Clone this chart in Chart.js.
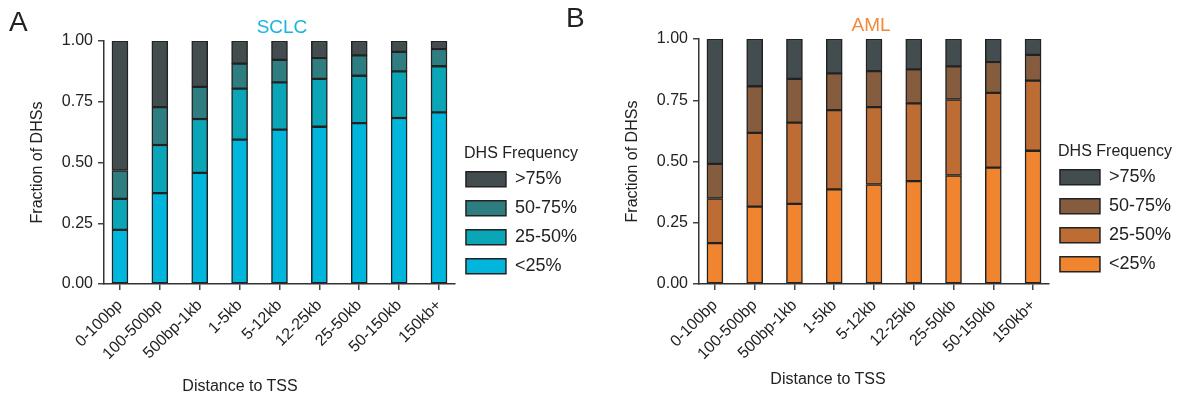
<!DOCTYPE html>
<html lang="en">
<head>
    <meta charset="UTF-8">
    <title>DHS frequency by distance to TSS</title>
    <script src="https://cdn.jsdelivr.net/npm/chart.js"></script>
    <style>
        body { margin: 0; background: #fff; font-family: "Liberation Sans", Arial, sans-serif; color: #222; }
        #wrap { position: relative; width: 1189px; height: 399px; }
        canvas { position: absolute; top: 0; }
        .lbl { position: absolute; white-space: nowrap; line-height: 1; }
        .panel { font-size: 28px; }
        .ttl { font-size: 19px; transform: translateX(-50%); }
        .xt { font-size: 16px; transform: translateX(-50%); }
    </style>
</head>
<body>
<div id="wrap">
    <canvas id="sclc" width="595" height="399" style="left:0"></canvas>
    <canvas id="aml" width="594" height="399" style="left:595px"></canvas>
    <div class="lbl panel" style="left:9px;top:8px">A</div>
    <div class="lbl panel" style="left:566px;top:4px">B</div>
    <div class="lbl ttl" style="left:282px;top:17px;color:#1ab4dc">SCLC</div>
    <div class="lbl ttl" style="left:871px;top:15px;color:#f28a3c">AML</div>
    <div class="lbl xt" style="left:240px;top:378px">Distance to TSS</div>
    <div class="lbl xt" style="left:828px;top:371px">Distance to TSS</div>
</div>

<script>
    const distances = ["0-100bp", "100-500bp", "500bp-1kb", "1-5kb", "5-12kb", "12-25kb", "25-50kb", "50-150kb", "150kb+"];
    const freqLabels = ["<25%", "25-50%", "50-75%", ">75%"];

    // fractions per bin, bottom segment first
    const sclcLt25 = [0.223, 0.374, 0.457, 0.594, 0.635, 0.647, 0.662, 0.683, 0.706];
    const sclc25to50 = [0.127, 0.198, 0.222, 0.210, 0.195, 0.197, 0.195, 0.192, 0.190];
    const sclc50to75 = [0.117, 0.156, 0.132, 0.103, 0.092, 0.086, 0.084, 0.080, 0.071];
    const sclcGt75 = [0.533, 0.272, 0.189, 0.093, 0.078, 0.070, 0.059, 0.045, 0.033];

    const amlLt25 = [0.167, 0.316, 0.327, 0.386, 0.406, 0.420, 0.443, 0.475, 0.544];
    const aml25to50 = [0.182, 0.301, 0.332, 0.324, 0.316, 0.317, 0.310, 0.305, 0.286];
    const aml50to75 = [0.141, 0.190, 0.178, 0.150, 0.147, 0.139, 0.135, 0.126, 0.105];
    const amlGt75 = [0.510, 0.193, 0.163, 0.140, 0.131, 0.124, 0.112, 0.094, 0.065];

    const yTicks = [0, 0.25, 0.5, 0.75, 1];

    const sclcColors = ["#00b6dd", "#0aa5b7", "#2e7d81", "#434c4e"];
    const amlColors = ["#f0842f", "#bd6d33", "#865c3e", "#434c4e"];

    const FONT = "'Liberation Sans', Arial, sans-serif";
    const INK = "#222";

    function makeChart(id, series, colors, pad) {
        const datasets = series.map((vals, k) => ({
            label: freqLabels[k],
            data: vals.map((v, i) => ({ x: i + 1, y: v })),
            backgroundColor: colors[k],
            borderColor: "#222",
            borderWidth: 1.5,
            borderSkipped: false,
            barThickness: 16
        }));

        return new Chart(document.getElementById(id), {
            type: 'bar',
            data: { datasets },
            options: {
                responsive: false,
                animation: false,
                devicePixelRatio: 1,
                layout: { padding: pad },
                plugins: {
                    tooltip: { enabled: false },
                    legend: {
                        position: 'right',
                        align: 'center',
                        reverse: true,
                        title: {
                            display: true,
                            text: 'DHS Frequency',
                            color: INK,
                            font: { family: FONT, size: 16 },
                            padding: { top: 0, bottom: -5.5 }
                        },
                        labels: {
                            boxWidth: 40,
                            boxHeight: 15,
                            padding: 11,
                            color: INK,
                            font: { family: FONT, size: 18 }
                        }
                    }
                },
                scales: {
                    x: {
                        type: 'linear',
                        stacked: true,
                        offset: false,
                        min: 0.6,
                        max: 9.4,
                        afterBuildTicks: s => { s.ticks = distances.map((d, i) => ({ value: i + 1 })); },
                        // fixed height, and no extra side room for the slanted labels
                        afterFit: s => {
                            s.height = 399 - 284 - pad.bottom;
                            s.paddingLeft = 0;
                            s.paddingRight = 0;
                        },
                        grid: { offset: false, drawOnChartArea: false, tickLength: 6, color: "#444", lineWidth: 1.5 },
                        border: { color: "#333", width: 1.5 },
                        ticks: {
                            autoSkip: false,
                            maxRotation: 45,
                            minRotation: 45,
                            padding: 6,
                            color: INK,
                            font: { family: FONT, size: 16 },
                            callback: v => distances[v - 1]
                        }
                    },
                    y: {
                        stacked: true,
                        min: 0,
                        max: 1,
                        afterBuildTicks: s => { s.ticks = yTicks.map(v => ({ value: v })); },
                        afterFit: s => { s.width = 104 - pad.left; },
                        grid: { drawOnChartArea: false, tickLength: 6, color: "#444", lineWidth: 1.5 },
                        border: { color: "#333", width: 1.5 },
                        ticks: {
                            padding: 5,
                            color: INK,
                            font: { family: FONT, size: 16 },
                            callback: v => v.toFixed(2)
                        },
                        title: {
                            display: true,
                            text: 'Fraction of DHSs',
                            color: INK,
                            font: { family: FONT, size: 16 },
                            padding: { top: 0, bottom: 0 }
                        }
                    }
                }
            }
        });
    }

    makeChart('sclc', [sclcLt25, sclc25to50, sclc50to75, sclcGt75], sclcColors,
        { left: 28, right: 8, top: 41, bottom: 8 });
    makeChart('aml', [amlLt25, aml25to50, aml50to75, amlGt75], amlColors,
        { left: 28, right: 8, top: 39, bottom: 10 });
</script>
</body>
</html>
